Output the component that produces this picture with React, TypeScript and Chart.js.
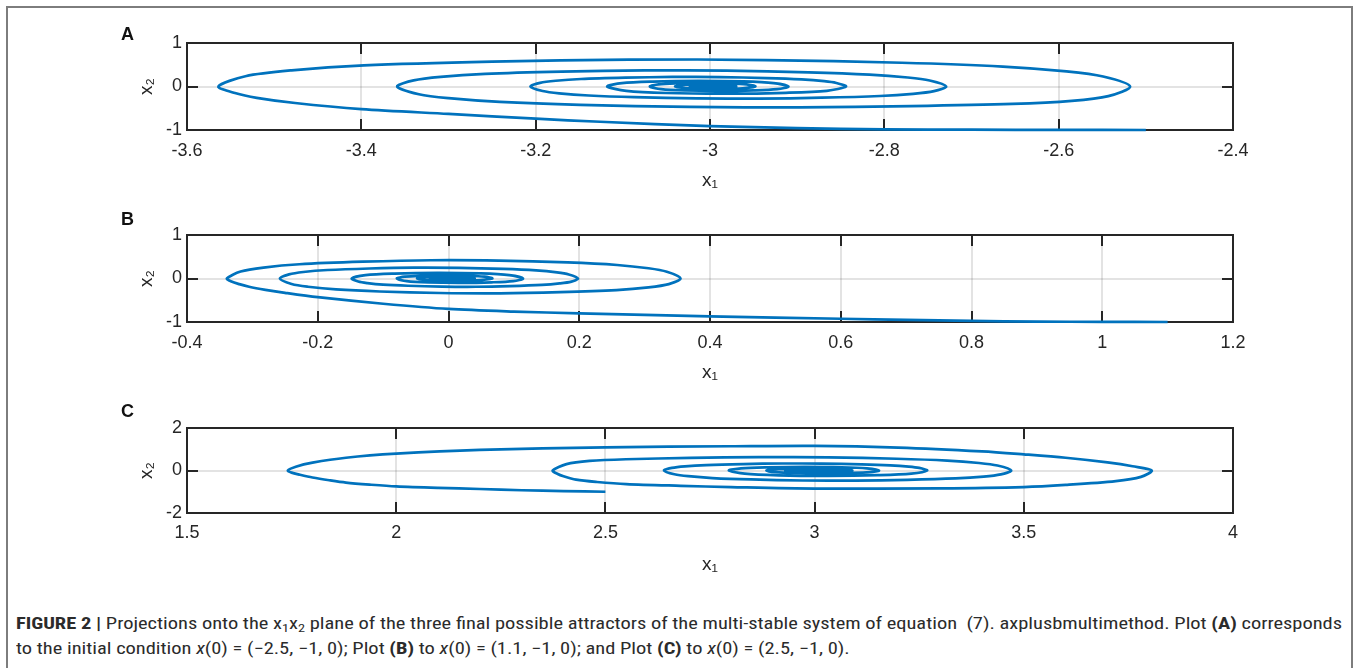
import React, { useEffect, useLayoutEffect, useRef } from "react";
import { Chart, registerables } from "chart.js";

Chart.register(...registerables);

// ---------- Panel A : x(0) = (-2.5, -1, 0) ----------
const trajA: [number, number][] = [
  [-2.5, -1.0], [-2.6, -0.998], [-2.7, -0.993], [-2.8, -0.985], [-2.9, -0.955], [-3.0, -0.91], [-3.126, -0.81], [-3.2, -0.74], [-3.3, -0.63], [-3.4, -0.52], [-3.476, -0.38], [-3.52, -0.26], [-3.545, -0.15], [-3.564, 0],
  [-3.533, 0.236], [-3.48, 0.372], [-3.397, 0.484], [-3.25, 0.57], [-3.093, 0.62], [-2.936, 0.608], [-2.78, 0.546], [-2.664, 0.459], [-2.591, 0.347], [-2.549, 0.229], [-2.518, 0],
  [-2.543, -0.22], [-2.585, -0.33], [-2.653, -0.4], [-2.77, -0.45], [-2.897, -0.48], [-3.023, -0.47], [-3.149, -0.422], [-3.241, -0.355], [-3.3, -0.269], [-3.334, -0.178], [-3.359, 0],
  [-3.34, 0.141], [-3.309, 0.222], [-3.258, 0.289], [-3.17, 0.34], [-3.075, 0.37], [-2.981, 0.363], [-2.887, 0.326], [-2.817, 0.274], [-2.773, 0.207], [-2.748, 0.137], [-2.729, 0],
  [-2.743, -0.106], [-2.767, -0.168], [-2.805, -0.218], [-2.872, -0.258], [-2.944, -0.28], [-3.015, -0.274], [-3.087, -0.246], [-3.139, -0.207], [-3.173, -0.157], [-3.192, -0.104], [-3.206, 0],
  [-3.195, 0.084], [-3.177, 0.132], [-3.148, 0.172], [-3.097, 0.202], [-3.043, 0.22], [-2.989, 0.216], [-2.935, 0.194], [-2.895, 0.163], [-2.869, 0.123], [-2.855, 0.081], [-2.844, 0],
  [-2.866, -0.099], [-2.913, -0.145], [-2.981, -0.165], [-3.05, -0.149], [-3.096, -0.099], [-3.118, 0],
  [-3.101, 0.078], [-3.066, 0.114], [-3.014, 0.13], [-2.962, 0.117], [-2.927, 0.078], [-2.91, 0],
  [-2.923, -0.06], [-2.95, -0.088], [-2.99, -0.1], [-3.029, -0.09], [-3.056, -0.06], [-3.069, 0],
  [-3.059, 0.047], [-3.039, 0.069], [-3.009, 0.078], [-2.978, 0.07], [-2.958, 0.047], [-2.948, 0],
  [-2.971, -0.053], [-2.994, -0.06], [-3.017, -0.054], [-3.04, 0],
  [-3.023, 0.04], [-3.005, 0.046], [-2.988, 0.041], [-2.97, 0],
  [-2.997, -0.035], [-3.023, 0],
  [-3.003, 0.027], [-2.982, 0],
  [-2.998, -0.02], [-3.013, 0],
  [-3.001, 0.016], [-2.992, 0],
  [-2.999, -0.012], [-3.006, 0],
];
const ticksA_x = [-3.6, -3.4, -3.2, -3, -2.8, -2.6, -2.4];
const ticksA_y = [-1, 0, 1];

// ---------- Panel B : x(0) = (1.1, -1, 0) ----------
const trajB: [number, number][] = [
  [1.1, -1.0], [1.0, -0.997], [0.9, -0.99], [0.8, -0.975], [0.7, -0.95], [0.6, -0.925], [0.4, -0.87], [0.2, -0.8], [0.1, -0.76], [0.0, -0.7], [-0.1, -0.58], [-0.2, -0.43], [-0.25, -0.33], [-0.28, -0.26], [-0.305, -0.19], [-0.32, -0.13], [-0.332, -0.07], [-0.339, 0],
  [-0.318, 0.16], [-0.283, 0.252], [-0.228, 0.328], [-0.131, 0.386], [-0.027, 0.42], [0.077, 0.412], [0.182, 0.37], [0.258, 0.311], [0.306, 0.235], [0.334, 0.155], [0.355, 0],
  [0.337, -0.129], [0.306, -0.204], [0.257, -0.265], [0.171, -0.313], [0.079, -0.34], [-0.013, -0.333], [-0.105, -0.299], [-0.172, -0.252], [-0.215, -0.19], [-0.24, -0.126], [-0.258, 0],
  [-0.244, 0.095], [-0.222, 0.15], [-0.185, 0.195], [-0.121, 0.23], [-0.053, 0.25], [0.016, 0.245], [0.084, 0.22], [0.134, 0.185], [0.166, 0.14], [0.184, 0.093], [0.198, 0],
  [0.188, -0.072], [0.17, -0.114], [0.143, -0.148], [0.094, -0.175], [0.042, -0.19], [-0.01, -0.186], [-0.062, -0.167], [-0.1, -0.141], [-0.124, -0.106], [-0.138, -0.07], [-0.148, 0],
  [-0.127, 0.078], [-0.083, 0.114], [-0.017, 0.13], [0.049, 0.117], [0.093, 0.078], [0.114, 0],
  [0.099, -0.06], [0.066, -0.088], [0.018, -0.1], [-0.031, -0.09], [-0.064, -0.06], [-0.079, 0],
  [-0.067, 0.042], [-0.043, 0.062], [-0.006, 0.07], [0.031, 0.063], [0.055, 0.042], [0.067, 0],
  [0.038, -0.048], [0.01, -0.055], [-0.019, -0.05], [-0.048, 0],
  [-0.026, 0.035], [-0.004, 0.04], [0.018, 0.036], [0.04, 0],
  [0.006, -0.03], [-0.028, 0],
  [-0.002, 0.022], [0.024, 0],
  [-0.002, -0.016], [-0.016, 0],
  [-0.001, 0.012], [0.014, 0],
  [0.0, -0.009], [-0.009, 0],
];
const ticksB_x = [-0.4, -0.2, 0, 0.2, 0.4, 0.6, 0.8, 1, 1.2];
const ticksB_y = [-1, 0, 1];

// ---------- Panel C : x(0) = (2.5, -1, 0) ----------
const trajC: [number, number][] = [
  [2.5, -1.0], [2.4, -0.97], [2.3, -0.93], [2.2, -0.87], [2.1, -0.82], [2.0, -0.75], [1.94, -0.67], [1.88, -0.57], [1.84, -0.46], [1.8, -0.33], [1.77, -0.2], [1.75, -0.1], [1.741, 0],
  [1.76, 0.18], [1.8, 0.37], [1.88, 0.6], [2.0, 0.79], [2.2, 0.97], [2.5, 1.09], [2.8, 1.14], [3.0, 1.16], [3.2, 1.08], [3.4, 0.9], [3.5, 0.76], [3.6, 0.6], [3.7, 0.38], [3.76, 0.2], [3.806, 0],
  [3.78, -0.3], [3.72, -0.5], [3.6, -0.68], [3.5, -0.78], [3.3, -0.84], [3.0, -0.85], [2.8, -0.78], [2.68, -0.72], [2.55, -0.64], [2.48, -0.54], [2.43, -0.43], [2.4, -0.27], [2.385, -0.15], [2.374, 0],
  [2.407, 0.3], [2.462, 0.45], [2.549, 0.53], [2.703, 0.59], [2.867, 0.63], [3.032, 0.617], [3.196, 0.554], [3.317, 0.466], [3.393, 0.353], [3.437, 0.233], [3.47, 0],
  [3.445, -0.182], [3.404, -0.288], [3.337, -0.374], [3.221, -0.442], [3.097, -0.48], [2.972, -0.47], [2.848, -0.422], [2.756, -0.355], [2.698, -0.269], [2.665, -0.178], [2.64, 0],
  [2.659, 0.125], [2.69, 0.198], [2.741, 0.257], [2.829, 0.304], [2.923, 0.33], [3.017, 0.323], [3.112, 0.29], [3.181, 0.244], [3.225, 0.185], [3.25, 0.122], [3.269, 0],
  [3.231, -0.15], [3.151, -0.22], [3.032, -0.25], [2.914, -0.225], [2.833, -0.15], [2.795, 0],
  [2.824, 0.102], [2.885, 0.15], [2.975, 0.17], [3.064, 0.153], [3.125, 0.102], [3.154, 0],
  [3.132, -0.078], [3.087, -0.114], [3.02, -0.13], [2.952, -0.117], [2.907, -0.078], [2.885, 0],
  [2.901, 0.054], [2.936, 0.079], [2.988, 0.09], [3.039, 0.081], [3.074, 0.054], [3.09, 0],
  [3.05, -0.061], [3.01, -0.07], [2.97, -0.063], [2.93, 0],
  [2.961, 0.044], [2.993, 0.05], [3.024, 0.045], [3.055, 0],
  [3.005, -0.035], [2.955, 0],
  [2.995, 0.025], [3.035, 0],
  [3.002, -0.018], [2.97, 0],
  [2.996, 0.012], [3.022, 0],
  [3.0, -0.009], [2.98, 0],
];
const ticksC_x = [1.5, 2, 2.5, 3, 3.5, 4];
const ticksC_y = [-2, 0, 2];

const panelLetters = ["A", "B", "C"];

// ---------- styling ----------
const FONT = "'Liberation Sans', Arial, Helvetica, sans-serif";
const AX = "#262626";
const LINE = "#0072BD";

type Panel = {
  data: [number, number][];
  xTicks: number[];
  yTicks: number[];
  top: number;
  xAxisH: number;
  titlePad: number;
  labelPad: number;
};

const panels: Panel[] = [
  { data: trajA, xTicks: ticksA_x, yTicks: ticksA_y, top: 0, xAxisH: 70, titlePad: 8, labelPad: 10 },
  { data: trajB, xTicks: ticksB_x, yTicks: ticksB_y, top: 192, xAxisH: 70, titlePad: 8, labelPad: 10 },
  { data: trajC, xTicks: ticksC_x, yTicks: ticksC_y, top: 385, xAxisH: 72, titlePad: 9, labelPad: 9 },
];

const fmt = (v: number) => String(Number(v.toFixed(4)));

const matlabBox = {
  id: "matlabBox",
  beforeDatasetsDraw(chart: any) {
    const { ctx, chartArea, scales } = chart;
    const { left, right, top, bottom } = chartArea;
    const x = scales.x;
    const y = scales.y;
    const tl = 11;
    ctx.save();
    ctx.strokeStyle = AX;
    ctx.lineWidth = 2;
    ctx.beginPath();
    x.ticks.forEach((t: any) => {
      const px = Math.round(x.getPixelForValue(t.value));
      ctx.moveTo(px, bottom);
      ctx.lineTo(px, bottom - tl);
      ctx.moveTo(px, top);
      ctx.lineTo(px, top + tl);
    });
    y.ticks.forEach((t: any) => {
      const py = Math.round(y.getPixelForValue(t.value));
      ctx.moveTo(left, py);
      ctx.lineTo(left + tl, py);
      ctx.moveTo(right, py);
      ctx.lineTo(right - tl, py);
    });
    ctx.stroke();
    ctx.strokeRect(left, top, right - left, bottom - top);
    ctx.restore();
  },
};

function buildConfig(p: Panel): any {
  const xs = p.xTicks;
  const ys = p.yTicks;
  return {
    type: "scatter",
    data: {
      datasets: [
        {
          data: p.data.map(([a, b]) => ({ x: a, y: b })),
          showLine: true,
          borderColor: LINE,
          borderWidth: 2.7,
          pointRadius: 0,
          tension: 0.3,
          fill: false,
          clip: 4,
        },
      ],
    },
    options: {
      responsive: false,
      animation: false,
      events: [],
      layout: { padding: { left: 125, right: 124, top: 43, bottom: 0 } },
      plugins: { legend: { display: false }, tooltip: { enabled: false } },
      scales: {
        x: {
          type: "linear",
          position: "bottom",
          min: xs[0],
          max: xs[xs.length - 1],
          afterBuildTicks: (axis: any) => {
            axis.ticks = xs.map((v) => ({ value: v }));
          },
          afterFit: (axis: any) => {
            axis.height = p.xAxisH;
          },
          grid: { color: "rgba(38,38,38,0.13)", lineWidth: 2, drawTicks: false },
          border: { display: false },
          ticks: {
            autoSkip: false,
            maxRotation: 0,
            padding: p.labelPad,
            color: AX,
            font: { family: FONT, size: 18 },
            callback: (v: number) => fmt(v),
          },
          title: {
            display: true,
            text: "x₁",
            color: AX,
            font: { family: FONT, size: 19 },
            padding: { top: 0, bottom: p.titlePad },
          },
        },
        y: {
          type: "linear",
          position: "left",
          min: ys[0],
          max: ys[ys.length - 1],
          afterBuildTicks: (axis: any) => {
            axis.ticks = ys.map((v) => ({ value: v }));
          },
          afterFit: (axis: any) => {
            axis.width = 62;
          },
          grid: { color: "rgba(38,38,38,0.13)", lineWidth: 2, drawTicks: false },
          border: { display: false },
          ticks: {
            autoSkip: false,
            padding: 5,
            color: AX,
            font: { family: FONT, size: 18 },
            callback: (v: number) => fmt(v),
          },
          title: {
            display: true,
            text: "x₂",
            color: AX,
            font: { family: FONT, size: 19 },
            padding: { top: 10, bottom: 0 },
          },
        },
      },
    },
    plugins: [matlabBox],
  };
}

const CAP_FONT = "'Liberation Sans Narrow', 'Roboto Condensed', Roboto, 'Liberation Sans', sans-serif";
const subStyle: React.CSSProperties = { fontSize: "0.7em", verticalAlign: "-0.25em", lineHeight: 0 };

export default function App() {
  const c0 = useRef<HTMLCanvasElement>(null);
  const c1 = useRef<HTMLCanvasElement>(null);
  const c2 = useRef<HTMLCanvasElement>(null);
  const cap1 = useRef<HTMLDivElement>(null);
  const cap2 = useRef<HTMLDivElement>(null);

  useEffect(() => {
    const canvases = [c0.current, c1.current, c2.current];
    const charts = panels.map((p, i) => new Chart(canvases[i] as HTMLCanvasElement, buildConfig(p)));
    return () => charts.forEach((c) => c.destroy());
  }, []);

  useLayoutEffect(() => {
    const a = cap1.current;
    const b = cap2.current;
    if (!a || !b) return;
    const w = a.getBoundingClientRect().width;
    if (w > 0) {
      const s = 1326 / w;
      a.style.transform = `scaleX(${s})`;
      b.style.transform = `scaleX(${s})`;
    }
  }, []);

  const canvasRefs = [c0, c1, c2];
  const letterTops = [25, 210, 402];

  const capLine: React.CSSProperties = {
    position: "absolute",
    left: 16,
    whiteSpace: "nowrap",
    fontFamily: CAP_FONT,
    fontSize: 16,
    lineHeight: "22px",
    color: "#2b2b2b",
    transformOrigin: "0 0",
    display: "inline-block",
  };

  return (
    <div style={{ position: "absolute", left: 0, top: 0, width: 1357, height: 668, overflow: "hidden", background: "#fff" }}>
      <div style={{ position: "absolute", left: 6, top: 6, width: 1347, height: 720, border: "2px solid #7d7d7d", boxSizing: "border-box" as any }} />
      {panels.map((p, i) => (
        <canvas
          key={i}
          ref={canvasRefs[i]}
          width={1357}
          height={200}
          style={{ position: "absolute", left: 0, top: p.top, width: 1357, height: 200, display: "block" }}
        />
      ))}
      {panelLetters.map((L, i) => (
        <div
          key={L}
          style={{ position: "absolute", left: 121, top: letterTops[i], fontFamily: FONT, fontWeight: 700, fontSize: 18, lineHeight: "18px", color: "#111" }}
        >
          {L}
        </div>
      ))}
      <div ref={cap1} style={{ ...capLine, top: 613 }}>
        <b>FIGURE 2 |</b> Projections onto the x<sub style={subStyle}>1</sub>x<sub style={subStyle}>2</sub> plane of the three final possible attractors of the multi-stable system of equation&nbsp; (7). axplusbmultimethod. Plot <b>(A)</b> corresponds
      </div>
      <div ref={cap2} style={{ ...capLine, top: 638 }}>
        to the initial condition <i>x</i>(0) = (−2.5, −1, 0); Plot <b>(B)</b> to <i>x</i>(0) = (1.1, −1, 0); and Plot <b>(C)</b> to <i>x</i>(0) = (2.5, −1, 0).
      </div>
    </div>
  );
}
